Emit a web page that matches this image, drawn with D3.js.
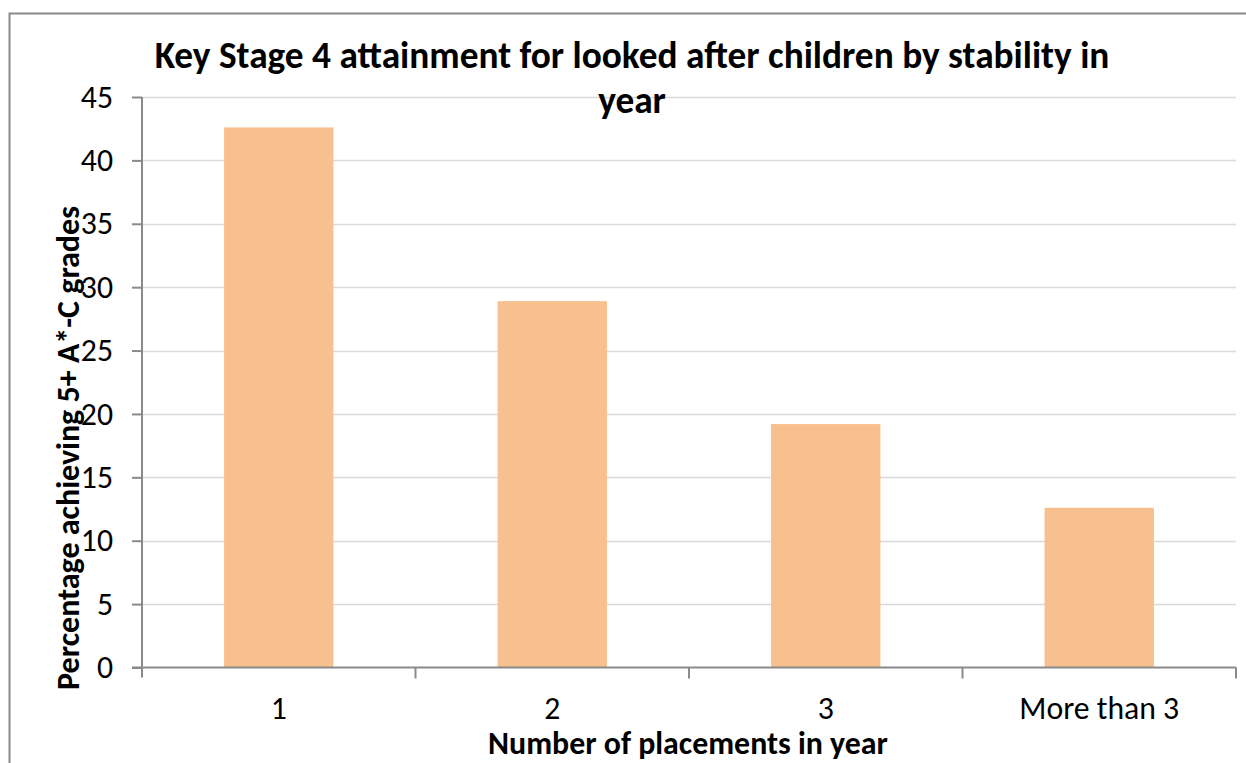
<!DOCTYPE html>
<html>
<head>
<meta charset="utf-8">
<script src="https://cdn.jsdelivr.net/npm/d3@7"></script>
<style>
  html, body { margin: 0; padding: 0; background: #fff; }
  svg { display: block; }
  text { font-family: Carlito, "Open Sans", "Liberation Sans", sans-serif; fill: #000; }
</style>
</head>
<body>
<svg id="chart" width="1246" height="763"></svg>
<script>
// Data: KS4 attainment by number of placements in year
const categories = ["1", "2", "3", "More than 3"];
const values = [42.6, 28.9, 19.2, 12.6];
const yTicks = [0, 5, 10, 15, 20, 25, 30, 35, 40, 45];
const titleLines = ["Key Stage 4 attainment for looked after children by stability in", "year"];
const xTitle = "Number of placements in year";
const yTitle = "Percentage achieving 5+ A*-C grades";

const svg = d3.select("#chart");
const W = 1246, H = 763;
const plot = { left: 142, right: 1236, top: 97, bottom: 667.5 };

// size a text selection so its first element spans the given width
function fitWidth(sel, size, width) {
  sel.style("font-size", size + "px");
  const w = sel.node().getComputedTextLength();
  const fs = size * width / w;
  sel.style("font-size", fs + "px");
  return fs;
}

// outer chart frame
svg.append("rect")
  .attr("x", 9.5).attr("y", 13.5)
  .attr("width", W + 10).attr("height", H + 10)
  .attr("fill", "none").attr("stroke", "#8a8a8a").attr("stroke-width", 2);

const x = d3.scaleBand().domain(categories).range([plot.left, plot.right]).paddingInner(0.6).paddingOuter(0.3);
const y = d3.scaleLinear().domain([0, 45]).range([plot.bottom, plot.top]);

// gridlines
svg.append("g").selectAll("line").data(yTicks.filter(d => d > 0)).join("line")
  .attr("x1", plot.left).attr("x2", plot.right)
  .attr("y1", d => Math.round(y(d)) + 0.5).attr("y2", d => Math.round(y(d)) + 0.5)
  .attr("stroke", "#d9d9d9").attr("stroke-width", 1.5);

// bars
svg.append("g").selectAll("rect").data(values).join("rect")
  .attr("x", (d, i) => x(categories[i]))
  .attr("width", x.bandwidth())
  .attr("y", d => y(d))
  .attr("height", d => y(0) - y(d))
  .attr("fill", "#f9c08f");

// tick label size derived from the widest category label
const probe = svg.append("text").text("More than 3");
const tickSize = fitWidth(probe, 23, 160);
probe.remove();

// y axis
const yAxis = svg.append("g").attr("transform", `translate(${plot.left},0)`)
  .call(d3.axisLeft(y).tickValues(yTicks).tickSize(10).tickPadding(19).tickSizeOuter(0));
yAxis.select(".domain").attr("stroke", "#8a8a8a").attr("stroke-width", 2)
  .attr("d", `M0,${plot.top}V${plot.bottom + 10}`);
yAxis.selectAll(".tick line").attr("stroke", "#8a8a8a").attr("stroke-width", 2);
yAxis.selectAll(".tick text").style("font-size", tickSize + "px").attr("fill", "#000")
  .attr("font-family", null);

// x axis with boundary ticks between categories
const xAxisG = svg.append("g").attr("transform", `translate(0,${plot.bottom})`);
xAxisG.append("line").attr("x1", plot.left - 10).attr("x2", plot.right)
  .attr("stroke", "#8a8a8a").attr("stroke-width", 2);
const step = (plot.right - plot.left) / categories.length;
xAxisG.selectAll("line.bt").data(d3.range(1, categories.length + 1)).join("line")
  .attr("class", "bt")
  .attr("x1", i => plot.left + i * step).attr("x2", i => plot.left + i * step)
  .attr("y1", 0).attr("y2", 11)
  .attr("stroke", "#8a8a8a").attr("stroke-width", 2);
xAxisG.selectAll("text").data(categories).join("text")
  .attr("x", d => x(d) + x.bandwidth() / 2)
  .attr("y", 51)
  .attr("text-anchor", "middle")
  .style("font-size", tickSize + "px")
  .text(d => d);

// title
const title = svg.append("g");
titleLines.forEach((t, i) => {
  title.append("text")
    .attr("x", 632).attr("y", 68 + i * 45)
    .attr("text-anchor", "middle")
    .style("font-weight", "bold")
    .text(t);
});
const tfs = fitWidth(title.select("text"), 29, 955);
title.selectAll("text").style("font-size", tfs + "px");

// axis titles
const xt = svg.append("text")
  .attr("x", 688).attr("y", 754)
  .attr("text-anchor", "middle")
  .style("font-weight", "bold")
  .text(xTitle);
fitWidth(xt, 24, 400);

const yt = svg.append("text")
  .attr("transform", "translate(79,448) rotate(-90)")
  .attr("text-anchor", "middle")
  .style("font-weight", "bold")
  .text(yTitle);
fitWidth(yt, 26, 484);
</script>
</body>
</html>
